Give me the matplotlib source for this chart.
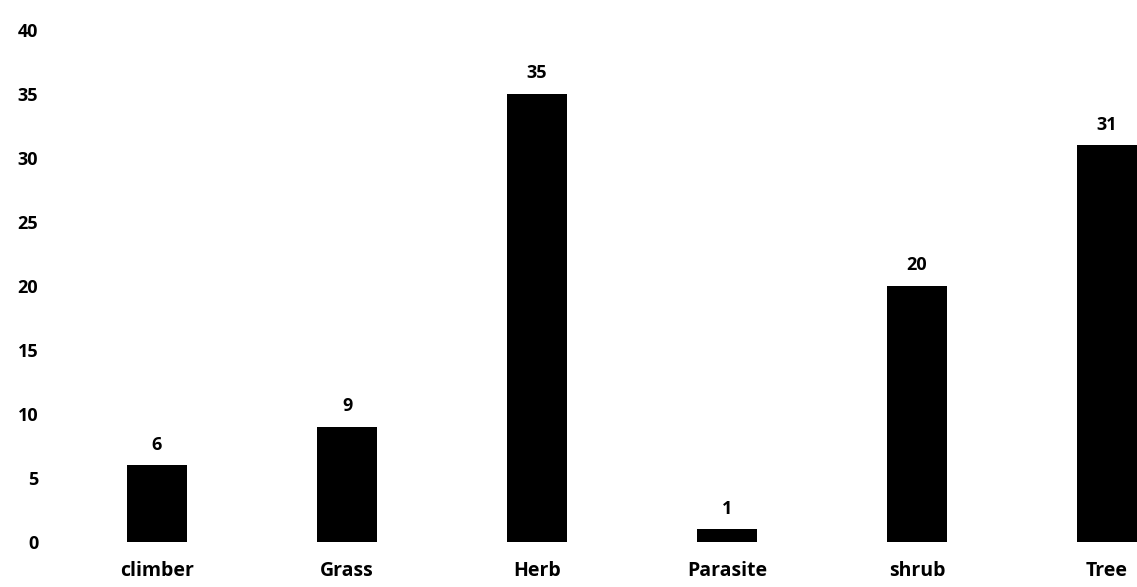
import numpy as np
import matplotlib.pyplot as plt

plt.rcParams['font.family'] = ['Open Sans', 'DejaVu Sans']

# Plant habit counts
habits = ['climber', 'Grass', 'Herb', 'Parasite', 'shrub', 'Tree']
counts = [6, 9, 35, 1, 20, 31]

fig = plt.figure(figsize=(11.37, 5.87), dpi=100)
ax = fig.add_axes([55 / 1137, 45 / 587, 1 - 55 / 1137, (542 - 30) / 587])

x = np.arange(len(habits))
ax.bar(x, counts, width=0.32, color='black')

for xi, c in zip(x, counts):
    ax.text(xi, c + 0.9, str(c), ha='center', va='bottom',
            fontsize=13, fontweight='bold')

ax.set_xlim(-0.537, 5.158)
ax.set_ylim(0, 40)
ax.set_yticks(np.arange(0, 41, 5))
ax.set_xticks(x)
ax.set_xticklabels(habits, fontsize=14, fontweight='bold')
for lab in ax.get_yticklabels():
    lab.set_fontsize(13)
    lab.set_fontweight('bold')
ax.tick_params(length=0)
ax.tick_params(axis='y', pad=12)
ax.tick_params(axis='x', pad=14)
for s in ax.spines.values():
    s.set_visible(False)

fig.savefig('out.png', dpi=100)
